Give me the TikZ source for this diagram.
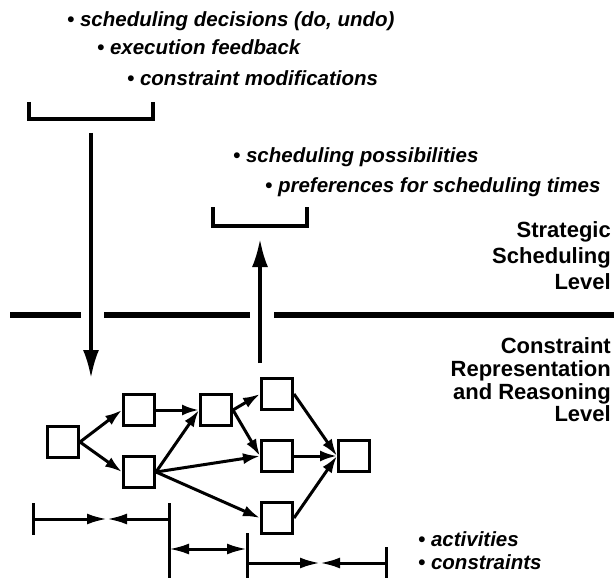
\documentclass[tikz,border=0pt]{standalone}
\usepackage{fontspec}
\setmainfont{Liberation Sans}
\usetikzlibrary{arrows.meta}
\begin{document}
\begin{tikzpicture}[x=1pt,y=-1pt,
  box/.style={draw,line width=3pt,minimum size=31pt,inner sep=0pt},
  flow/.style={line width=3pt,-{Latex[length=17pt,width=11pt]}},
  bigflow/.style={line width=3.2pt,-{Latex[length=28pt,width=16pt]}},
  span/.style={line width=3pt,-{Latex[length=20pt,width=11pt]}},
  twospan/.style={line width=3pt,{Latex[length=20pt,width=11pt]}-{Latex[length=20pt,width=11pt]}},
  tick/.style={line width=3pt},
  brk/.style={line width=3.2pt},
  divider/.style={line width=5.5pt},
  note/.style={font=\fontsize{20.5}{23}\selectfont\bfseries\itshape,anchor=base west,inner sep=0pt},
  level/.style={font=\fontsize{22}{24}\selectfont\bfseries,anchor=base east,inner sep=0pt}
]
\useasboundingbox (0,0) rectangle (614,578);

% top notes
\node[note] (n1) at (67,27) {• scheduling decisions (do, undo)};
\node[note] (n2) at (97,55) {• execution feedback};
\node[note] (n3) at (127,85) {• constraint modifications};
\draw[brk] (29,102) -- (29,119) -- (153,119) -- (153,102);

\node[note] (n4) at (233,163) {• scheduling possibilities};
\node[note] (n5) at (265,192) {• preferences for scheduling times};
\draw[brk] (213,207) -- (213,226) -- (307,226) -- (307,207);

% level labels
\node[level] (s1) at (611,237) {Strategic};
\node[level] (s2) at (611,263) {Scheduling};
\node[level] (s3) at (611,289) {Level};

\node[level] (c1) at (611,353) {Constraint};
\node[level] (c2) at (611,376) {Representation};
\node[level] (c3) at (611,399) {and Reasoning};
\node[level] (c4) at (611,421) {Level};

% divider
\draw[divider] (10,315) -- (81,315);
\draw[divider] (104,315) -- (250,315);
\draw[divider] (274,315) -- (614,315);

% vertical arrows
\coordinate (dtop) at (91,133);
\coordinate (dtip) at (91,378);
\draw[bigflow] (dtop) -- (dtip);
\coordinate (ubot) at (260,363);
\coordinate (utip) at (260,239);
\draw[bigflow] (ubot) -- (utip);

% network
\node[box] (A) at (63,442) {};
\node[box] (B) at (139,410) {};
\node[box] (C) at (139,472) {};
\node[box] (D) at (216,410) {};
\node[box] (E) at (277,394) {};
\node[box] (F) at (277,456) {};
\node[box] (G) at (354,456) {};
\node[box] (H) at (277,518) {};

\draw[flow] (A.east) -- (B.west);
\draw[flow] (A.east) -- (C.west);
\draw[flow] (B.east) -- (D.west);
\draw[flow] (C.east) -- (D.west);
\draw[flow] (C.east) -- (F.west);
\draw[flow] (C.east) -- (H.west);
\draw[flow] (D.east) -- (E.west);
\draw[flow] (D.east) -- (F.west);
\draw[flow] (E.east) -- (G.west);
\draw[flow] (F.east) -- (G.west);
\draw[flow] (H.east) -- (G.west);

% bottom constraint spans
\coordinate (t1a) at (33,503);  \coordinate (t1b) at (33,535);
\coordinate (t2a) at (169,503); \coordinate (t2b) at (169,578);
\coordinate (t3a) at (247,533); \coordinate (t3b) at (247,578);
\coordinate (t4a) at (386,547); \coordinate (t4b) at (386,578);
\draw[tick] (t1a) -- (t1b);
\draw[tick] (t2a) -- (t2b);
\draw[tick] (t3a) -- (t3b);
\draw[tick] (t4a) -- (t4b);

\coordinate (p1l) at (33,519);  \coordinate (p1m) at (107,519); \coordinate (p1r) at (169,519);
\draw[span] (p1l) -- (p1m);
\draw[span] (p1r) -- (p1m);
\coordinate (p2l) at (169,549); \coordinate (p2r) at (247,549);
\draw[twospan] (p2l) -- (p2r);
\coordinate (p3l) at (247,563); \coordinate (p3m) at (320,563); \coordinate (p3r) at (386,563);
\draw[span] (p3l) -- (p3m);
\draw[span] (p3r) -- (p3m);

\node[note] (a1) at (418,546) {• activities};
\node[note] (a2) at (418,569) {• constraints};
\end{tikzpicture}
\end{document}
